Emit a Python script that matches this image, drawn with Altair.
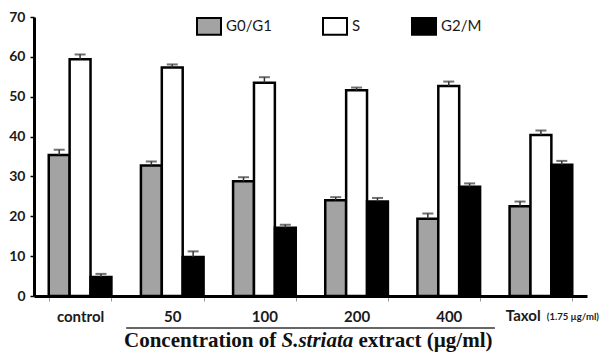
import altair as alt
import pandas as pd

categories = ["control", "50", "100", "200", "400", "Taxol"]
phases = ["G0/G1", "S", "G2/M"]

g0g1 = [35.4, 32.75, 28.8, 24.0, 19.4, 22.5]
g0g1_err = [1.3, 1.0, 1.0, 0.8, 1.3, 1.2]
s_phase = [59.4, 57.3, 53.5, 51.6, 52.7, 40.4]
s_err = [1.2, 0.8, 1.4, 0.7, 1.1, 1.1]
g2m = [4.75, 9.8, 17.1, 23.7, 27.4, 32.9]
g2m_err = [0.8, 1.4, 0.8, 0.9, 0.85, 1.0]

colors = ["#a3a3a3", "#ffffff", "#000000"]

rows = []
for vals, errs, ph in [(g0g1, g0g1_err, "G0/G1"), (s_phase, s_err, "S"), (g2m, g2m_err, "G2/M")]:
    for c, v, e in zip(categories, vals, errs):
        rows.append({"cat": c, "phase": ph, "value": v, "upper": v + e})
df = pd.DataFrame(rows)

W, H = 553, 279
STEP = W / 6

X_AXIS = alt.Axis(title=None, tickBand="extent", labelAngle=0,
                  labelExpr="datum.value == 'Taxol' ? '' : datum.value",
                  labelFont="Lato", labelFontWeight="bold", labelFontSize=15,
                  labelColor="#1a1a1a", labelPadding=8, tickSize=5,
                  tickColor="#999999", tickWidth=1,
                  domainColor="#000000", domainWidth=3, grid=False)
Y_AXIS = alt.Axis(title=None, values=[0, 10, 20, 30, 40, 50, 60, 70],
                  labelOverlap=False, labelFont="Lato", labelFontWeight="bold",
                  labelFontSize=14, labelColor="#1a1a1a", labelPadding=5, tickSize=4,
                  tickColor="#000000", tickWidth=1.5,
                  domainColor="#000000", domainWidth=3, grid=False)

x_scale = alt.Scale(paddingInner=0.32, paddingOuter=0.16)
y_scale = alt.Scale(domain=[0, 70], nice=False)

x_enc = alt.X("cat:N", sort=categories, scale=x_scale, axis=X_AXIS)
xo = alt.XOffset("phase:N", sort=phases)

bars = alt.Chart(df).mark_bar(stroke="black", strokeWidth=2.5).encode(
    x=x_enc,
    xOffset=xo,
    y=alt.Y("value:Q", scale=y_scale, axis=Y_AXIS),
    color=alt.Color("phase:N", sort=phases,
                    scale=alt.Scale(domain=phases, range=colors),
                    legend=alt.Legend(title=None, orient="none", legendX=162, legendY=-4,
                                      direction="horizontal", columns=3,
                                      symbolType="M-1,-0.7H1V0.7H-1Z", symbolSize=576,
                                      symbolStrokeColor="black", symbolStrokeWidth=2,
                                      labelFont="Lato", labelFontSize=15, labelColor="#1a1a1a",
                                      labelOffset=4, columnPadding=47)),
)

err_rule = alt.Chart(df).mark_rule(color="#333333", strokeWidth=1.5).encode(
    x=x_enc, xOffset=xo,
    y=alt.Y("value:Q", scale=y_scale, axis=Y_AXIS), y2="upper:Q")

err_cap = alt.Chart(df).mark_tick(color="#333333", thickness=2, size=11).encode(
    x=x_enc, xOffset=xo,
    y=alt.Y("upper:Q", scale=y_scale, axis=Y_AXIS))

# annotations below the axis
ann = pd.DataFrame({"t": [0]})
base = alt.Chart(ann)

taxol = base.mark_text(text="Taxol", font="Lato", fontWeight="bold", fontSize=15,
                       align="left", baseline="middle", color="#1a1a1a").encode(
    x=alt.value(5 * STEP + 11), y=alt.value(H + 20))
taxol_dose = base.mark_text(text="(1.75 µg/ml)", font="Lato", fontWeight="bold", fontSize=9.5,
                            align="left", baseline="middle", color="#1a1a1a").encode(
    x=alt.value(5 * STEP + 52), y=alt.value(H + 21))

underline = base.mark_rule(color="#333333", strokeWidth=1.5).encode(
    x=alt.value(STEP), x2=alt.value(5 * STEP), y=alt.value(H + 32))

FS = 21
w1 = 7.499 * FS
w2 = 3.418 * FS
sp = 0.25 * FS
x0 = 90
t1 = base.mark_text(text="Concentration of", font="Liberation Serif", fontWeight="bold",
                    fontSize=FS, align="left", baseline="alphabetic", color="#111111").encode(
    x=alt.value(x0), y=alt.value(H + 51))
t2 = base.mark_text(text="S.striata", font="Liberation Serif", fontWeight="bold", fontStyle="italic",
                    fontSize=FS, align="left", baseline="alphabetic", color="#111111").encode(
    x=alt.value(x0 + w1), y=alt.value(H + 51))
t3 = base.mark_text(text="extract (µg/ml)", font="Liberation Serif", fontWeight="bold",
                    fontSize=FS, align="left", baseline="alphabetic", color="#111111").encode(
    x=alt.value(x0 + w1 + w2 + sp), y=alt.value(H + 51))

chart = alt.layer(bars, err_rule, err_cap, taxol, taxol_dose, underline, t1, t2, t3).properties(
    width=W, height=H,
    background="white",
    autosize=alt.AutoSizeParams(type="none"),
    padding={"left": 26, "top": 9, "right": 20, "bottom": 57},
).configure_view(stroke=None)

chart.save("out.html", embed_options={"renderer": "svg", "actions": False})
